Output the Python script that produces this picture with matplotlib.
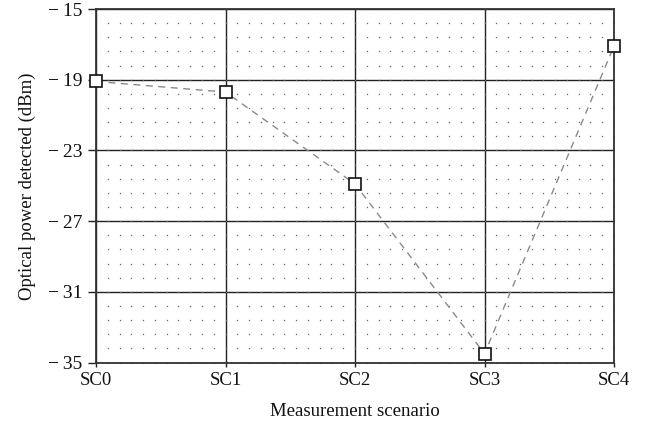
import matplotlib
matplotlib.use("Agg")
import matplotlib.pyplot as plt
import numpy as np

scenarios = ["SC0", "SC1", "SC2", "SC3", "SC4"]
power_dbm = [-19.1, -19.7, -24.9, -34.5, -17.1]
y_ticks = [-35, -31, -27, -23, -19, -15]

plt.rcParams['font.family'] = ['Liberation Serif', 'DejaVu Serif']

fig = plt.figure(figsize=(6.56, 4.29), dpi=100)
ax = fig.add_axes([96/656, 1 - 362.5/429, (614-96)/656, (362.5-9)/429])

x = np.arange(len(scenarios))
ax.set_xlim(0, len(scenarios) - 1)
ax.set_ylim(-35, -15)

# dotted minor grid (dots at minor intersections)
mx = np.linspace(0, len(scenarios) - 1, (len(scenarios) - 1) * 11 + 1)
my = np.arange(-35, -15 + 1e-9, 0.8)
MX, MY = np.meshgrid(mx, my)
ax.plot(MX.ravel(), MY.ravel(), linestyle='none', marker='s', markersize=0.9,
        markeredgewidth=0, color='#666666', zorder=1)

ax.set_xticks(x)
ax.set_xticklabels(scenarios)
ax.set_yticks(y_ticks)
ax.set_yticklabels([f"\u2212\u2009{abs(v)}" for v in y_ticks])
ax.grid(True, which='major', color='#222222', linewidth=1.0, zorder=2)
ax.set_axisbelow(True)

ax.plot(x, power_dbm, linestyle=(0, (5, 4)), color='#8a8a8a', linewidth=1.0,
        marker='s', markersize=8, markerfacecolor='white',
        markeredgecolor='#111111', markeredgewidth=1.2, zorder=5, clip_on=False)

for s in ['left', 'top', 'bottom', 'right']:
    ax.spines[s].set_color('#333333')
    ax.spines[s].set_linewidth(1.3)

ax.tick_params(axis='y', direction='out', length=6, width=1.0, colors='#222222',
               labelsize=14, pad=4, labelcolor='#111111')
ax.tick_params(axis='x', direction='out', length=3, width=1.0, colors='#222222',
               labelsize=13.5, pad=4, labelcolor='#111111')

ax.set_xlabel("Measurement scenario", fontsize=13.5, labelpad=10, color='#111111')
ax.set_ylabel("Optical power detected (dBm)", fontsize=13.5, labelpad=8, color='#111111')

fig.savefig("out.png", dpi=100)
